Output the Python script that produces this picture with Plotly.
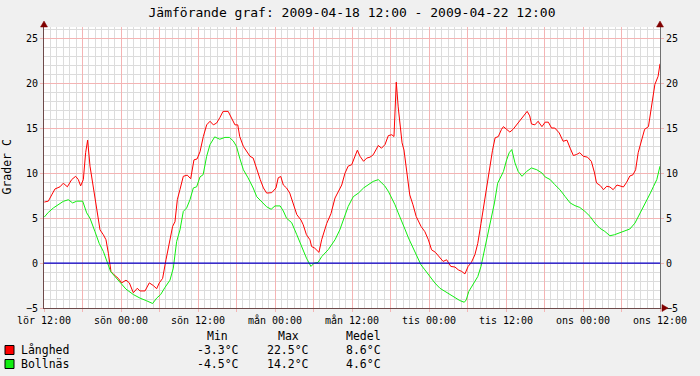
import plotly.graph_objects as go

# ---------------- data ----------------
TITLE = "Jämförande graf: 2009-04-18 12:00 - 2009-04-22 12:00"
Y_LABEL = "Grader C"
SERIES_NAMES = ["Långhed", "Bollnäs"]

X_TICK_HOURS = [0, 12, 24, 36, 48, 60, 72, 84, 96]
X_TICK_LABELS = ["lör 12:00", "sön 00:00", "sön 12:00", "mån 00:00", "mån 12:00",
                 "tis 00:00", "tis 12:00", "ons 00:00", "ons 12:00"]
Y_TICKS = [-5, 0, 5, 10, 15, 20, 25]

LEGEND_HEADERS = ["Min", "Max", "Medel"]
STAT_MIN = ["-3.3°C", "-4.5°C"]
STAT_MAX = ["22.5°C", "14.2°C"]
STAT_MEAN = ["8.6°C", "4.6°C"]

# hours after 2009-04-18 12:00
LANGHED_HOURS = [
    0.05, 0.67, 1.2, 1.71, 2.49, 3.01, 3.64, 4.31, 4.93, 5.35, 5.71, 6.13, 6.49, 6.8, 7.17,
    7.58, 7.95, 8.31, 8.73, 9.25, 9.66, 10.03, 10.44, 10.91, 11.58, 12.1, 12.78, 13.3, 13.92,
    14.54, 14.96, 15.74, 16.41, 17.04, 17.56, 17.97, 18.49, 19.01, 19.53, 20.05, 20.41, 20.78,
    21.19, 21.71, 22.33, 22.86, 23.37, 23.85, 24.31, 24.83, 25.35, 25.87, 26.39, 26.9, 27.4,
    27.9, 28.7, 29.2, 29.76, 30.2, 30.5, 31.07, 31.6, 32.1, 32.6, 33.15, 33.7, 34.2, 34.7,
    35.5, 36.15, 36.5, 36.9, 37.3, 37.8, 38.3, 38.85, 39.4, 40.05, 40.4, 40.9, 41.45, 41.7,
    42.2, 42.85, 43.27, 44.05, 44.72, 45.35, 45.87, 46.4, 46.9, 47.4, 47.95, 48.4, 48.83,
    49.25, 49.8, 50.3, 50.8, 51.3, 52.1, 52.6, 53.14, 53.66, 54.2, 54.54, 54.7, 54.9, 55.2,
    55.5, 55.8, 56.1, 56.5, 57.0, 57.5, 58.0, 58.75, 59.36, 59.9, 60.4, 61.0, 61.7, 62.2,
    62.75, 63.4, 64.05, 64.57, 65.1, 65.6, 66.1, 66.6, 67.15, 67.6, 68.1, 68.6, 69.2, 69.5,
    69.9, 70.3, 70.8, 71.3, 71.6, 72.1, 72.6, 73.1, 73.9, 74.7, 75.3, 75.7, 75.97, 76.5,
    77.0, 77.6, 78.1, 78.6, 79.1, 79.6, 80.3, 80.9, 81.5, 82.0, 82.5, 83.0, 83.5, 84.05,
    84.7, 85.3, 85.8, 86.1, 86.7, 87.2, 87.7, 88.2, 88.7, 89.3, 89.8, 90.3, 90.8, 91.3,
    91.8, 92.2, 92.6, 93.1, 93.6, 94.2, 94.7, 95.2, 95.7, 96.0]
LANGHED_TEMP = [
    6.8, 6.9, 7.6, 8.26, 8.5, 8.9, 8.5, 9.3, 9.67, 9.3, 8.6, 9.3, 12.3, 13.7, 10.8,
    8.9, 7.4, 5.95, 3.7, 3.16, 2.6, 1.1, -0.94, -1.3, -1.7, -2.2, -1.9, -2.2, -3.3,
    -2.8, -3.1, -3.1, -2.2, -2.5, -2.85, -2.2, -1.7, 0.37, 2.2, 4.1, 4.6, 7.07,
    8.2, 9.67, 9.8, 9.4, 11.5, 11.6, 12.4, 14.1, 15.4, 15.8, 15.4, 15.6, 16.2,
    16.9, 16.9, 16.2, 15.4, 15.4, 14.1, 13.0, 12.46, 11.9, 11.7, 10.4, 9.3, 8.37, 7.8,
    7.85, 8.37, 9.5, 9.65, 8.7, 8.37, 7.8, 6.5, 5.4, 4.8, 4.27, 3.16, 2.6, 1.85,
    1.66, 1.2, 2.6, 4.4, 5.5, 7.25, 8.0, 8.7, 10.0, 10.8, 10.96, 11.8, 12.57,
    11.9, 11.34, 11.7, 11.8, 12.06, 13.1, 12.8, 13.2, 14.2, 14.3, 14.1, 17.1, 20.16, 17.4,
    15.25, 13.4, 12.6, 10.4, 7.6, 6.5, 5.2, 4.1, 3.5, 2.6, 1.48, 1.2, 0.56, 0.19,
    0.37, -0.37, -0.44, -0.75, -0.93, -1.2, -0.37, 0.07, 0.93, 2.2, 4.4, 6.7, 9.3, 11.16,
    12.57, 13.95, 14.1, 14.9, 15.2, 14.9, 14.6, 14.9, 15.6, 16.4, 16.9, 16.4, 15.5, 15.4,
    15.8, 15.2, 15.7, 15.7, 15.05, 15.05, 14.5, 13.57, 13.7, 12.8, 11.98, 12.1, 12.3, 11.9,
    11.8, 11.34, 10.04, 8.93, 8.63, 8.18, 8.56, 8.48, 8.18, 8.7, 8.56, 8.48, 9.0, 9.7,
    9.85, 10.4, 12.3, 13.76, 14.9, 15.2, 17.86, 19.9, 20.8, 22.2]

BOLLNAS_HOURS = [
    0.05, 0.67, 1.45, 2.23, 3.01, 3.79, 4.47, 5.09, 6.03, 6.65, 7.17, 7.95, 8.6, 9.25,
    9.77, 10.39, 11.07, 11.84, 12.78, 13.92, 14.96, 16.0, 16.93, 17.56, 18.18, 18.86,
    19.63, 20.15, 20.41, 20.67, 21.19, 21.71, 22.23, 22.75, 23.27, 23.79, 24.31, 24.8,
    25.35, 25.87, 26.6, 27.4, 28.2, 28.9, 29.5, 30.0, 30.5, 31.07, 31.8, 32.6, 33.15,
    33.9, 34.7, 35.4, 36.0, 36.8, 37.3, 37.8, 38.6, 39.4, 40.2, 40.9, 41.6, 42.1, 42.7,
    43.3, 44.3, 45.35, 46.1, 46.9, 47.4, 48.2, 49.0, 49.8, 50.5, 51.3, 52.1, 52.7, 53.1,
    53.66, 54.2, 54.7, 55.2, 55.8, 56.3, 56.8, 57.5, 58.2, 58.75, 59.36, 60.1, 60.9,
    61.7, 62.5, 63.25, 64.05, 64.8, 65.5, 65.8, 66.2, 66.9, 67.6, 68.1, 68.6, 69.2,
    69.7, 70.2, 70.7, 71.2, 71.6, 72.1, 72.5, 72.9, 73.4, 73.9, 74.5, 75.2, 75.97, 76.8,
    77.6, 78.1, 78.9, 79.6, 80.4, 81.2, 82.0, 82.75, 83.5, 84.3, 85.1, 85.85, 86.6,
    87.4, 88.2, 88.9, 89.7, 90.5, 91.3, 92.1, 92.8, 93.4, 93.9, 94.5, 95.0, 95.5, 96.0]
BOLLNAS_TEMP = [
    5.13, 5.65, 6.14, 6.5, 6.88, 7.06, 6.7, 6.9, 6.9, 5.6, 5.0, 3.5, 2.2, 1.3,
    0.37, -0.94, -1.5, -2.1, -2.9, -3.5, -3.9, -4.2, -4.5, -3.9, -3.5, -2.7,
    -1.9, -0.56, 0.74, 2.4, 3.7, 5.76, 6.14, 7.06, 8.37, 8.5, 9.6, 9.85,
    11.9, 13.2, 14.06, 13.8, 14.0, 14.0, 13.6, 13.0, 11.7, 10.4, 9.5, 8.37, 7.4,
    6.9, 6.27, 6.0, 6.37, 6.37, 5.8, 5.0, 4.5, 3.16, 1.85, 0.56, -0.37, 0.0, 0.07,
    0.74, 1.5, 2.6, 3.7, 5.3, 6.3, 7.4, 7.8, 8.37, 8.74, 9.1, 9.3, 8.9, 8.6,
    8.0, 7.3, 6.5, 5.6, 4.46, 3.7, 2.8, 1.67, 0.74, -0.19, -0.75, -1.5, -2.2,
    -2.8, -3.16, -3.43, -3.8, -4.17, -4.36, -4.1, -3.16, -2.4, -1.5, -0.37, 1.3, 3.16,
    4.64, 6.7, 8.9, 9.6, 10.2, 11.5, 12.3, 12.65, 11.16, 10.2, 9.67, 10.2, 10.6, 10.4,
    10.04, 9.6, 9.3, 8.74, 8.18, 7.43, 6.7, 6.4, 6.2, 5.76, 5.2, 4.46, 3.9,
    3.53, 3.05, 3.16, 3.35, 3.53, 3.8, 4.46, 5.4, 6.3, 6.9, 7.8, 8.56, 9.3, 10.8]

# ---------------- style ----------------
FONT = "DejaVu Sans Mono"
RED = "#ff0000"
GREEN = "#11ee11"
AXIS_COL = "#6e4a4a"
ARROW_COL = "#800000"
MINOR_GRID = "#dcdcdc"
MAJOR_GRID = "#f4b4b4"
ZERO_COL = "#0000cc"
X_MAX = 96
Y_MIN, Y_MAX = -5, 26.3

W, H = 700, 376
ML, MR, MT, MB = 44, 40, 27, 68
PW, PH = W - ML - MR, H - MT - MB


def px(x):
    return (x - ML) / PW


def py(y):
    return (H - MB - y) / PH


fig = go.Figure()
fig.add_trace(go.Scatter(x=LANGHED_HOURS, y=LANGHED_TEMP, mode="lines",
                         line=dict(color=RED, width=1), name=SERIES_NAMES[0],
                         yaxis="y"))
fig.add_trace(go.Scatter(x=BOLLNAS_HOURS, y=BOLLNAS_TEMP, mode="lines",
                         line=dict(color=GREEN, width=1), name=SERIES_NAMES[1],
                         yaxis="y2"))

label_map = dict(zip(X_TICK_HOURS, X_TICK_LABELS))
major_x = list(range(0, X_MAX + 1, 6))
major_text = [label_map.get(h, "") for h in major_x]

fig.update_layout(
    width=W, height=H, autosize=False,
    margin=dict(l=ML, r=MR, t=MT, b=MB, pad=0),
    paper_bgcolor="#f0f0f0", plot_bgcolor="#ffffff",
    showlegend=False, hovermode=False,
    font=dict(family=FONT, size=10, color="#000000"),
    title=dict(text=TITLE, x=352 / W, xanchor="center", y=1 - 12.5 / H,
               yanchor="middle", yref="container",
               font=dict(family=FONT, size=13, color="#000000")),
    xaxis=dict(range=[0, X_MAX], tickmode="array", tickvals=major_x, ticktext=major_text,
               showgrid=True, gridcolor=MAJOR_GRID, gridwidth=1,
               minor=dict(tickmode="linear", tick0=0, dtick=1, showgrid=True,
                          gridcolor=MINOR_GRID, gridwidth=1),
               zeroline=False, showline=True, linecolor=AXIS_COL, linewidth=1,
               ticks="outside", ticklen=3, tickcolor=MAJOR_GRID,
               tickfont=dict(family=FONT, size=10)),
    yaxis=dict(range=[Y_MIN, Y_MAX], tickmode="array", tickvals=Y_TICKS,
               showgrid=True, gridcolor=MAJOR_GRID, gridwidth=1,
               minor=dict(tickmode="linear", tick0=0, dtick=1, showgrid=True,
                          gridcolor=MINOR_GRID, gridwidth=1),
               zeroline=False,
               showline=True, linecolor=AXIS_COL, linewidth=1,
               ticks="outside", ticklen=3, tickcolor=MAJOR_GRID,
               tickfont=dict(family=FONT, size=10)),
    yaxis2=dict(range=[Y_MIN, Y_MAX], tickmode="array", tickvals=Y_TICKS,
                overlaying="y", side="right", showgrid=False, zeroline=False,
                showline=True, linecolor="#707070", linewidth=1,
                ticks="outside", ticklen=3, tickcolor=MAJOR_GRID,
                tickfont=dict(family=FONT, size=10)),
)

shapes = []
# horizontal rule at 0
shapes.append(dict(type="line", xref="paper", yref="y", x0=0, x1=1, y0=0, y1=0,
                   layer="above", line=dict(color=ZERO_COL, width=1.3)))
# axis arrows (paper refs so they are not clipped)
shapes.append(dict(type="path", xref="paper", yref="paper", xsizemode="pixel", ysizemode="pixel",
                   xanchor=0, yanchor=1, path="M -3.5,0 L 3.5,0 L 0,6 Z",
                   fillcolor=ARROW_COL, line=dict(color=ARROW_COL, width=0.5)))
shapes.append(dict(type="path", xref="paper", yref="paper", xsizemode="pixel", ysizemode="pixel",
                   xanchor=1, yanchor=1, path="M -3.5,0 L 3.5,0 L 0,6 Z",
                   fillcolor=ARROW_COL, line=dict(color=ARROW_COL, width=0.5)))
shapes.append(dict(type="path", xref="paper", yref="paper", xsizemode="pixel", ysizemode="pixel",
                   xanchor=1, yanchor=0, path="M 2,-3.5 L 2,3.5 L 8,0 Z",
                   fillcolor=ARROW_COL, line=dict(color=ARROW_COL, width=0.5)))

annotations = []
# y-axis label
annotations.append(dict(text=Y_LABEL, xref="paper", yref="paper", x=px(6.5), y=py(167),
                        showarrow=False, textangle=-90, xanchor="center", yanchor="middle",
                        font=dict(family=FONT, size=11.5, color="#000000")))
# legend headers
col_x = [217.5, 288, 364]
for hdr, cx in zip(LEGEND_HEADERS, col_x):
    annotations.append(dict(text=hdr, xref="paper", yref="paper", x=px(cx), y=py(336),
                            showarrow=False, xanchor="center", yanchor="middle",
                            font=dict(family=FONT, size=11.5, color="#000000")))
row_y = [350, 364]
colors = [RED, GREEN]
for i, name in enumerate(SERIES_NAMES):
    ry = row_y[i]
    shapes.append(dict(type="rect", xref="paper", yref="paper",
                       x0=px(5), x1=px(14), y0=py(ry - 4.5), y1=py(ry + 4.5),
                       fillcolor=colors[i], line=dict(color="#000000", width=1)))
    annotations.append(dict(text=name, xref="paper", yref="paper", x=px(19), y=py(ry),
                            showarrow=False, xanchor="left", yanchor="middle",
                            font=dict(family=FONT, size=11.5, color="#000000")))
    for val, cx in zip([STAT_MIN[i], STAT_MAX[i], STAT_MEAN[i]], col_x):
        annotations.append(dict(text=val, xref="paper", yref="paper", x=px(cx), y=py(ry),
                                showarrow=False, xanchor="center", yanchor="middle",
                                font=dict(family=FONT, size=11.5, color="#000000")))

fig.update_layout(shapes=shapes, annotations=annotations)
fig.write_html("out.html", config={"displayModeBar": False, "staticPlot": True},
               post_script="document.body.style.margin='0px';"
                           "document.body.style.overflow='hidden';")
